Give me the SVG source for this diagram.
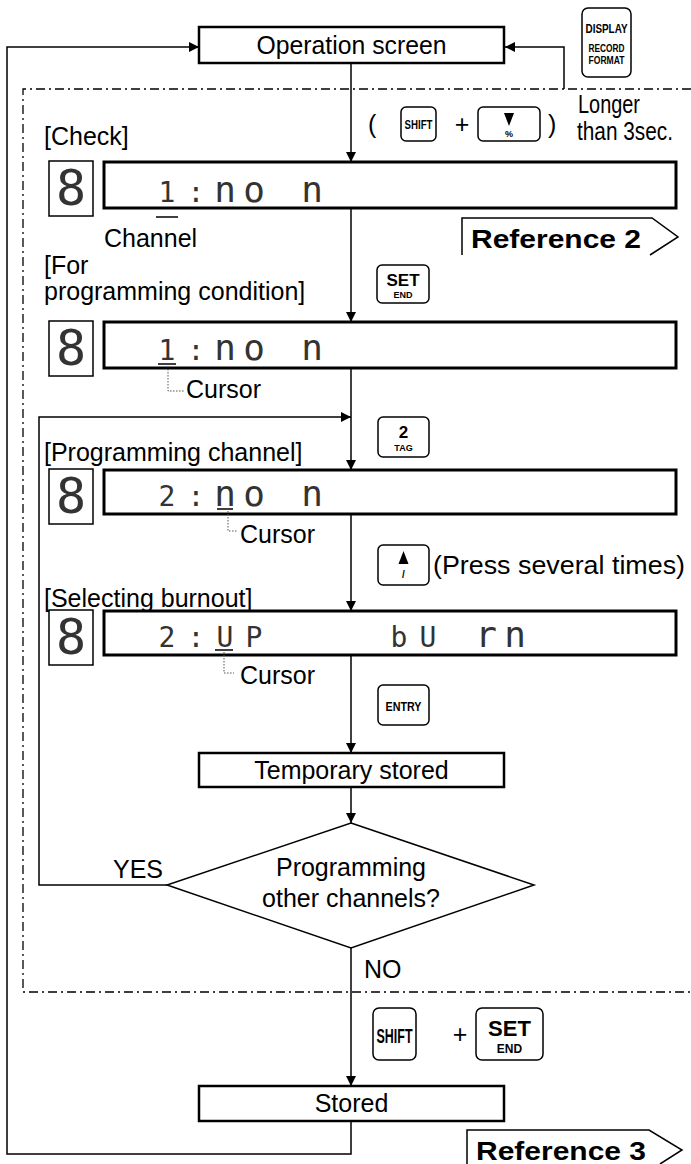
<svg xmlns="http://www.w3.org/2000/svg" width="691" height="1164" viewBox="0 0 691 1164">
<defs>
<marker id="ah" viewBox="0 0 10 10" refX="10" refY="5" markerWidth="10" markerHeight="10" markerUnits="userSpaceOnUse" orient="auto"><path d="M0,0 L10,5 L0,10 z" fill="#000"/></marker>
<style>
.ln{stroke:#000;stroke-width:1.5;fill:none}
.dd{stroke:#000;stroke-width:1.3;fill:none;stroke-dasharray:9,4,2,4}
.dot{stroke:#555;stroke-width:1;fill:none;stroke-dasharray:1.5,1.5}
.box{fill:#fff;stroke:#000;stroke-width:2.5}
.disp{fill:#fff;stroke:#000;stroke-width:3}
.icon{fill:#fff;stroke:#000;stroke-width:1.5}
.key{fill:#fff;stroke:#000;stroke-width:1.5}
.t{font-family:"Liberation Sans",Arial,sans-serif;font-size:25px;fill:#000}
.c{text-anchor:middle}
.kb{font-family:"Liberation Sans",Arial,sans-serif;font-weight:bold;fill:#000;text-anchor:middle}
.seg{font-family:"DejaVu Sans Mono",monospace;font-size:28px;fill:#333;text-anchor:middle}
.lo{font-size:36px}
.ic{font-family:"DejaVu Sans Mono",monospace;font-size:50px;fill:#333;text-anchor:middle}
.ref{font-family:"Liberation Sans",Arial,sans-serif;font-weight:900;font-size:26px;fill:#000}
</style>
</defs>

<g id="frame">
<path class="dd" d="M691,89 H23 V992 H691"/>
</g>

<g id="connectors">
<path class="ln" d="M351,63 V162" marker-end="url(#ah)"/>
<path class="ln" d="M351,208 V322" marker-end="url(#ah)"/>
<path class="ln" d="M351,368 V470" marker-end="url(#ah)"/>
<path class="ln" d="M167,885 H39 V417 H351" marker-end="url(#ah)"/>
<path class="ln" d="M351,514 V611" marker-end="url(#ah)"/>
<path class="ln" d="M351,655 V753" marker-end="url(#ah)"/>
<path class="ln" d="M351,787 V823" marker-end="url(#ah)"/>
<path class="ln" d="M351,948 V1086" marker-end="url(#ah)"/>
<path class="ln" d="M351,1121 V1154 H7 V47 H199" marker-end="url(#ah)"/>
<path class="ln" d="M564,89 V47 H505" marker-end="url(#ah)"/>
</g>

<g id="operation-screen">
<rect class="box" x="199" y="27" width="305" height="36"/>
<text class="t c" x="351.5" y="54" font-size="26" textLength="190" lengthAdjust="spacingAndGlyphs">Operation screen</text>
</g>

<g id="key-display">
<rect class="key" x="582" y="8" width="49" height="69" rx="6"/>
<text class="kb" x="606.5" y="33" font-size="12" textLength="42" lengthAdjust="spacingAndGlyphs">DISPLAY</text>
<text class="kb" x="606.5" y="52" font-size="10" textLength="36" lengthAdjust="spacingAndGlyphs">RECORD</text>
<text class="kb" x="606.5" y="64" font-size="10" textLength="36" lengthAdjust="spacingAndGlyphs">FORMAT</text>
</g>

<g id="keys-check">
<text class="t" x="368" y="133" font-size="26">(</text>
<rect class="key" x="401" y="107" width="35" height="34" rx="5"/>
<text class="kb" x="418.5" y="129" font-size="13" textLength="28" lengthAdjust="spacingAndGlyphs">SHIFT</text>
<text class="t c" x="462" y="133">+</text>
<rect class="key" x="478" y="107" width="62" height="34" rx="5"/>
<polygon points="504,113 514,113 509,126" fill="#000"/>
<text class="kb" x="509" y="137" font-size="9">%</text>
<text class="t" x="548" y="133" font-size="26">)</text>
<text class="t" x="578" y="113" font-size="19" textLength="62" lengthAdjust="spacingAndGlyphs">Longer</text>
<text class="t" x="577" y="140" font-size="19" textLength="96" lengthAdjust="spacingAndGlyphs">than 3sec.</text>
</g>

<g id="check">
<text class="t" x="44" y="145">[Check]</text>
<rect class="icon" x="49" y="161" width="44" height="55"/>
<text class="ic" x="71" y="205">8</text>
<rect class="disp" x="104" y="162" width="572" height="46"/>
<text class="seg" y="202"><tspan x="167">1</tspan><tspan x="196">:</tspan><tspan class="lo" x="225">n</tspan><tspan class="lo" x="254">o</tspan><tspan class="lo" x="312">n</tspan></text>
<line class="ln" x1="156" y1="217" x2="178" y2="217"/>
<text class="t" x="104" y="247">Channel</text>
</g>

<g id="reference-2">
<path d="M462,255 V218 H652 L678,237 L650,255" fill="#fff" stroke="#000" stroke-width="1.5"/>
<text class="ref" x="471" y="248" textLength="170" lengthAdjust="spacingAndGlyphs">Reference 2</text>
</g>

<g id="key-set">
<rect class="key" x="377" y="265" width="52" height="38" rx="5"/>
<text class="kb" x="403" y="286" font-size="17">SET</text>
<text class="kb" x="403" y="298" font-size="9">END</text>
</g>

<g id="programming-condition">
<text class="t" x="44" y="274">[For</text>
<text class="t" x="44" y="300">programming condition]</text>
<rect class="icon" x="49" y="321" width="44" height="55"/>
<text class="ic" x="71" y="365">8</text>
<rect class="disp" x="104" y="322" width="572" height="46"/>
<text class="seg" y="360"><tspan x="167">1</tspan><tspan x="196">:</tspan><tspan class="lo" x="225">n</tspan><tspan class="lo" x="254">o</tspan><tspan class="lo" x="312">n</tspan></text>
<line class="ln" x1="158" y1="364" x2="176" y2="364"/>
<path class="dot" d="M168,366 V391 H184"/>
<text class="t" x="186" y="398">Cursor</text>
</g>

<g id="key-tag">
<rect class="key" x="378" y="417" width="51" height="40" rx="5"/>
<text class="kb" x="403.5" y="438" font-size="17">2</text>
<text class="kb" x="403.5" y="451" font-size="9">TAG</text>
</g>

<g id="programming-channel">
<text class="t" x="44" y="461">[Programming channel]</text>
<rect class="icon" x="49" y="469" width="44" height="55"/>
<text class="ic" x="71" y="513">8</text>
<rect class="disp" x="104" y="470" width="572" height="44"/>
<text class="seg" y="506"><tspan x="167">2</tspan><tspan x="196">:</tspan><tspan class="lo" x="225">n</tspan><tspan class="lo" x="254">o</tspan><tspan class="lo" x="312">n</tspan></text>
<line class="ln" x1="217" y1="509" x2="233" y2="509"/>
<path class="dot" d="M228,511 V531 H238"/>
<text class="t" x="240" y="543">Cursor</text>
</g>

<g id="key-up">
<rect class="key" x="378" y="545" width="51" height="40" rx="5"/>
<polygon points="403.5,551 398.5,564 408.5,564" fill="#000"/>
<text class="kb" x="403.5" y="578" font-size="10">/</text>
<text class="t" x="433" y="574" textLength="252" lengthAdjust="spacingAndGlyphs">(Press several times)</text>
</g>

<g id="selecting-burnout">
<text class="t" x="44" y="607">[Selecting burnout]</text>
<rect class="icon" x="49" y="610" width="44" height="55"/>
<text class="ic" x="71" y="654">8</text>
<rect class="disp" x="104" y="611" width="572" height="44"/>
<text class="seg" y="647"><tspan x="167">2</tspan><tspan x="196">:</tspan><tspan x="225">U</tspan><tspan x="254">P</tspan><tspan x="399">b</tspan><tspan x="428">U</tspan><tspan class="lo" x="486">r</tspan><tspan class="lo" x="515">n</tspan></text>
<line class="ln" x1="215" y1="650" x2="233" y2="650"/>
<path class="dot" d="M224,652 V673 H234"/>
<text class="t" x="240" y="684">Cursor</text>
</g>

<g id="key-entry">
<rect class="key" x="378" y="685" width="51" height="40" rx="5"/>
<text class="kb" x="403.5" y="711" font-size="13" textLength="36" lengthAdjust="spacingAndGlyphs">ENTRY</text>
</g>

<g id="temporary-stored">
<rect class="box" x="199" y="753" width="305" height="34"/>
<text class="t c" x="351.5" y="779">Temporary stored</text>
</g>

<g id="decision">
<polygon points="351,823 534,885 351,948 167,885" fill="#fff" stroke="#000" stroke-width="1.5"/>
<text class="t c" x="351" y="876">Programming</text>
<text class="t c" x="351" y="907">other channels?</text>
<text class="t" x="113" y="878">YES</text>
<text class="t" x="364" y="978">NO</text>
</g>

<g id="keys-store">
<rect class="key" x="373" y="1008" width="43" height="52" rx="6"/>
<text class="kb" x="394.5" y="1043" font-size="20" textLength="36" lengthAdjust="spacingAndGlyphs">SHIFT</text>
<text class="t c" x="460" y="1043">+</text>
<rect class="key" x="476" y="1008" width="67" height="52" rx="6"/>
<text class="kb" x="509.5" y="1036" font-size="22">SET</text>
<text class="kb" x="509.5" y="1053" font-size="12">END</text>
</g>

<g id="stored">
<rect class="box" x="199" y="1086" width="305" height="35"/>
<text class="t c" x="351.5" y="1112">Stored</text>
</g>

<g id="reference-3">
<path d="M467,1164 V1130 H649 L682,1150 L660,1164" fill="#fff" stroke="#000" stroke-width="1.5"/>
<text class="ref" x="476" y="1160" textLength="170" lengthAdjust="spacingAndGlyphs">Reference 3</text>
</g>
</svg>
